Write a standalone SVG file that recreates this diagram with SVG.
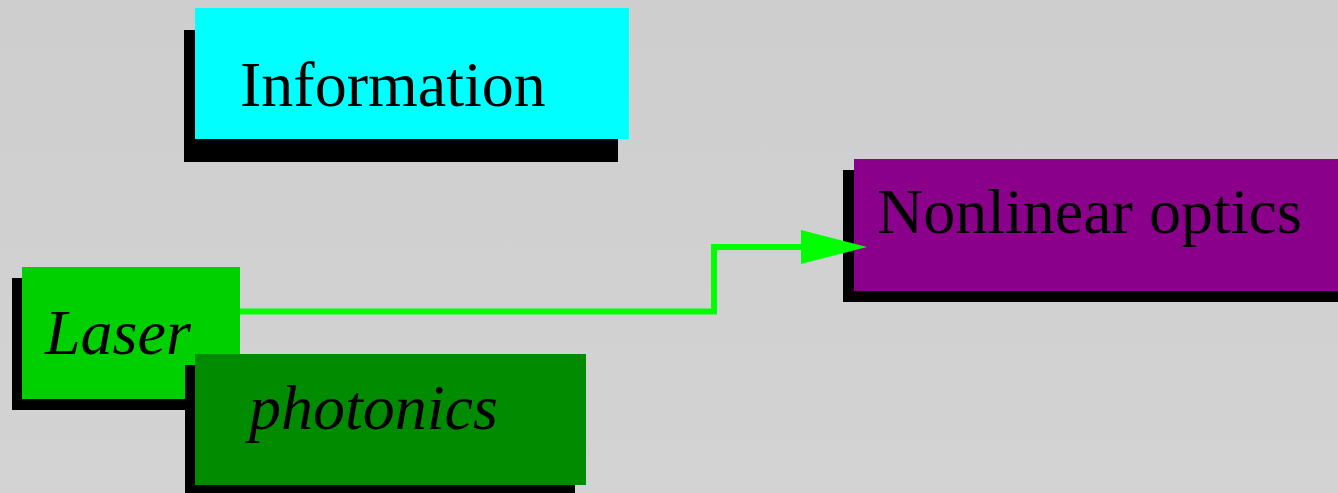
<svg xmlns="http://www.w3.org/2000/svg" width="1338" height="493" viewBox="0 0 1338 493">
  <style>
    .shadow { fill: #000000; }
    .label { font-family: "Liberation Serif", "Times New Roman", serif; font-size: 64px; fill: #000000; }
    .it { font-style: italic; }
    .conn { fill: none; stroke: #00ff00; stroke-width: 6; }
  </style>
  <defs>
    <linearGradient id="bg" x1="0" y1="0" x2="0" y2="1">
      <stop offset="0" stop-color="#cecece"/>
      <stop offset="1" stop-color="#d3d3d3"/>
    </linearGradient>
    <marker id="arrow" markerUnits="userSpaceOnUse" markerWidth="67" markerHeight="34" refX="0" refY="17" orient="auto" overflow="visible">
      <path d="M0,0 L66,17 L0,34 Z" fill="#00ff00"/>
    </marker>
  </defs>
  <rect x="0" y="0" width="1338" height="493" fill="url(#bg)"/>

  <g id="node-information">
    <rect class="shadow" x="184" y="30" width="434" height="132"/>
    <rect x="195" y="8" width="434" height="131" fill="#00ffff"/>
    <text class="label" x="240" y="106">Information</text>
  </g>

  <g id="node-nonlinear-optics">
    <rect class="shadow" x="843" y="170" width="500" height="132"/>
    <rect x="854" y="159" width="490" height="132" fill="#8b008b"/>
    <text class="label" x="877" y="233">Nonlinear optics</text>
  </g>

  <g id="connectors">
    <path class="conn" d="M240,311.5 H714 V247 H801" marker-end="url(#arrow)"/>
  </g>

  <g id="node-laser">
    <rect class="shadow" x="12" y="278" width="218" height="132"/>
    <rect x="22" y="267" width="218" height="132" fill="#00d000"/>
    <text class="label it" x="45" y="354">Laser</text>
  </g>

  <g id="node-photonics">
    <rect class="shadow" x="185" y="365" width="390" height="131"/>
    <rect x="195" y="354" width="391" height="131" fill="#008b00"/>
    <text class="label it" x="249" y="429">photonics</text>
  </g>
</svg>
